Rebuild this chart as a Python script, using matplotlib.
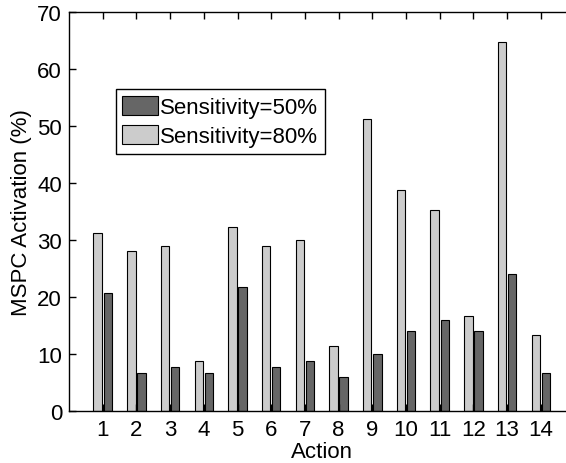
import numpy as np
import matplotlib
matplotlib.use("Agg")
import matplotlib.pyplot as plt

plt.rcParams['font.family'] = ['Liberation Sans', 'DejaVu Sans']

actions = np.arange(1, 15)
sens50 = [20.7, 6.7, 7.6, 6.7, 21.7, 7.6, 8.7, 6.0, 10.0, 14.0, 16.0, 14.0, 24.0, 6.7]
sens80 = [31.3, 28.0, 29.0, 8.7, 32.3, 29.0, 30.0, 11.3, 51.3, 38.7, 35.3, 16.7, 64.7, 13.3]

fig = plt.figure(figsize=(5.66, 4.64), dpi=100)
ax = fig.add_axes([69 / 566, (464 - 411.7) / 464, 505.5 / 566, 398.4 / 464])

w = 0.25
b80 = ax.bar(actions - 0.15, sens80, w, color='#cccccc', edgecolor='black', linewidth=0.8,
             label='Sensitivity=80%')
b50 = ax.bar(actions + 0.15, sens50, w, color='#666666', edgecolor='black', linewidth=0.8,
             label='Sensitivity=50%')

ax.set_xlim(0, 15)
ax.set_ylim(0, 70)
ax.set_xticks(actions)
ax.set_yticks(range(0, 71, 10))
ax.tick_params(direction='in', length=5, width=1, labelsize=16, top=True, right=True)
ax.tick_params(axis='x', pad=6)
ax.tick_params(axis='y', pad=5)
for s in ax.spines.values():
    s.set_linewidth(1.0)

ax.set_xlabel('Action', fontsize=16, labelpad=1)
ax.set_ylabel('MSPC Activation (%)', fontsize=16, labelpad=4)

leg = ax.legend([b50, b80], ['Sensitivity=50%', 'Sensitivity=80%'],
                loc='upper left', bbox_to_anchor=(0.092, 0.807), fontsize=16,
                fancybox=False, framealpha=1, edgecolor='black',
                handlelength=1.6, handleheight=0.95, handletextpad=0.12,
                borderpad=0.3, labelspacing=0.3, borderaxespad=0)
leg.get_frame().set_linewidth(1.0)

fig.savefig('out.png', dpi=100)
